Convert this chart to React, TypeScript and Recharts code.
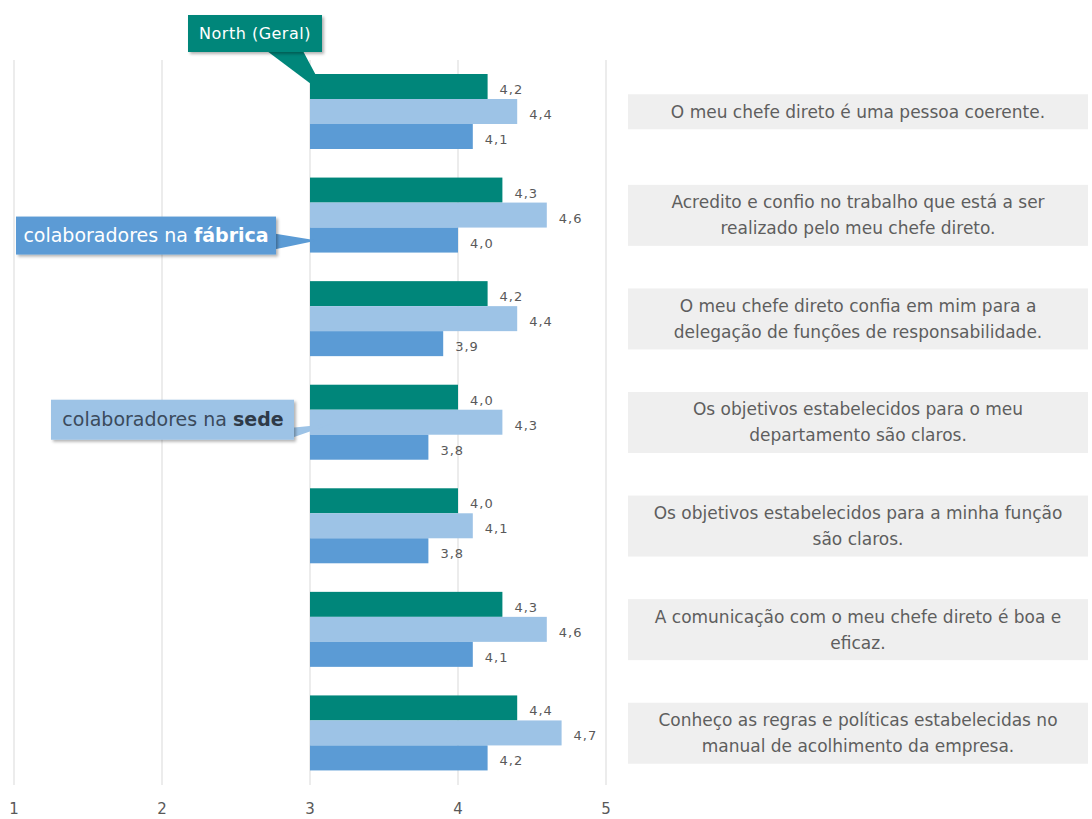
import React from 'react';
import { BarChart, Bar, XAxis, YAxis, CartesianGrid } from 'recharts';

// question text shown in the grey boxes on the right (line breaks as in the original)
const categories = [
  'O meu chefe direto é uma pessoa coerente.',
  'Acredito e confio no trabalho que está a ser\nrealizado pelo meu chefe direto.',
  'O meu chefe direto confia em mim para a\ndelegação de funções de responsabilidade.',
  'Os objetivos estabelecidos para o meu\ndepartamento são claros.',
  'Os objetivos estabelecidos para a minha função\nsão claros.',
  'A comunicação com o meu chefe direto é boa e\neficaz.',
  'Conheço as regras e políticas estabelecidas no\nmanual de acolhimento da empresa.',
];
const geral = [4.2, 4.3, 4.2, 4.0, 4.0, 4.3, 4.4];
const sede = [4.4, 4.6, 4.4, 4.3, 4.1, 4.6, 4.7];
const fabrica = [4.1, 4.0, 3.9, 3.8, 3.8, 4.1, 4.2];
const xTicks = [1, 2, 3, 4, 5];

const AXIS_CROSS = 3; // bars grow from the 3 line
const FONT = "'DejaVu Sans', sans-serif";
const TEAL = '#00867a';
const LIGHT = '#9dc3e6';
const BLUE = '#5b9bd5';

const rows = categories.map((label, i) => ({
  label,
  geral: geral[i],
  sede: sede[i],
  fabrica: fabrica[i],
}));

const fmt = (v: number) => v.toFixed(1).replace('.', ',');

type CalloutFn = (x: number, y: number, w: number, h: number) => React.ReactNode;

const northCallout: CalloutFn = (x, y) => (
  <g>
    <polygon points={`${x - 43},${y - 23} ${x - 7},${y - 23} ${x + 17},${y + 22}`} fill={TEAL} />
    <rect x={x - 122} y={y - 59} width={134} height={37} fill={TEAL} filter="url(#calloutShadow)" />
    <text x={x - 55} y={y - 40.5} dy="0.35em" textAnchor="middle" fill="#fff" fontSize={16} letterSpacing={0.5} fontFamily={FONT}>
      North (Geral)
    </text>
  </g>
);

const fabricaCallout: CalloutFn = (x, y) => (
  <g>
    <polygon points={`${x - 36},${y + 6} ${x - 36},${y + 22} ${x + 7},${y + 13}`} fill={BLUE} />
    <rect x={x - 294} y={y - 11} width={260} height={38} fill={BLUE} filter="url(#calloutShadow)" />
    <text x={x - 164} y={y + 8} dy="0.35em" textAnchor="middle" fill="#fff" fontSize={19} fontFamily={FONT}>
      colaboradores na <tspan fontWeight="bold">fábrica</tspan>
    </text>
  </g>
);

const sedeCallout: CalloutFn = (x, y) => (
  <g>
    <polygon points={`${x - 18},${y + 18} ${x - 18},${y + 28} ${x + 22},${y + 14}`} fill={LIGHT} />
    <rect x={x - 259} y={y - 10} width={243} height={40} fill={LIGHT} filter="url(#calloutShadow)" />
    <text x={x - 137} y={y + 10} dy="0.35em" textAnchor="middle" fill="#3b4a5c" fontSize={19} fontFamily={FONT}>
      colaboradores na <tspan fontWeight="bold" fill="#2e3a48">sede</tspan>
    </text>
  </g>
);

const makeShape = (key: 'geral' | 'sede' | 'fabrica', fill: string, calloutIndex: number, callout: CalloutFn) =>
  (props: any) => {
    const { x, y, width, height, payload, index } = props;
    return (
      <g>
        <rect x={x} y={y} width={width} height={height} fill={fill} />
        <text
          x={x + width + 12}
          y={y + height / 2 + 3}
          dy="0.35em"
          fontSize={13}
          letterSpacing={1}
          fill="#595959"
          fontFamily={FONT}
        >
          {fmt(payload[key])}
        </text>
        {index === calloutIndex ? callout(x, y, width, height) : null}
      </g>
    );
  };

const CategoryTick = (props: any) => {
  const { x, y, payload } = props;
  const lines = String(payload.value).split('\n');
  const lineH = 26;
  const boxH = 35 + lineH * (lines.length - 1);
  const left = x + 22;
  const w = 460;
  return (
    <g>
      <rect x={left} y={y - boxH / 2} width={w} height={boxH} fill="#efefef" />
      <text textAnchor="middle" fontSize={17} fill="#5e5e5e" fontFamily={FONT}>
        {lines.map((line, i) => (
          <tspan key={i} x={left + w / 2} y={y + (i - (lines.length - 1) / 2) * lineH} dy="0.35em">
            {line}
          </tspan>
        ))}
      </text>
    </g>
  );
};

export default function App() {
  return (
    <div style={{ position: 'absolute', left: 0, top: 0, width: 1092, height: 819, background: '#fff' }}>
      <BarChart
        width={1092}
        height={819}
        data={rows}
        layout="vertical"
        margin={{ top: 60, right: 0, bottom: 4, left: 14 }}
        barCategoryGap={14}
        barGap={0}
      >
        <defs>
          <filter id="calloutShadow" x="-10%" y="-30%" width="130%" height="180%">
            <feDropShadow dx="2" dy="2" stdDeviation="1.5" floodColor="#000" floodOpacity="0.3" />
          </filter>
        </defs>
        <CartesianGrid horizontal={false} stroke="#d9d9d9" />
        <XAxis
          type="number"
          domain={[1, 5]}
          ticks={xTicks}
          axisLine={false}
          tickLine={false}
          tickSize={0}
          tickMargin={18}
          height={30}
          tick={{ fill: '#595959', fontSize: 15, fontFamily: FONT }}
        />
        <YAxis
          type="category"
          dataKey="label"
          orientation="right"
          width={486}
          axisLine={false}
          tickLine={false}
          tickSize={0}
          tickMargin={0}
          interval={0}
          tick={<CategoryTick />}
        />
        <Bar
          dataKey={(d: any) => [AXIS_CROSS, d.geral]}
          fill={TEAL}
          isAnimationActive={false}
          shape={makeShape('geral', TEAL, 0, northCallout)}
        />
        <Bar
          dataKey={(d: any) => [AXIS_CROSS, d.sede]}
          fill={LIGHT}
          isAnimationActive={false}
          shape={makeShape('sede', LIGHT, 3, sedeCallout)}
        />
        <Bar
          dataKey={(d: any) => [AXIS_CROSS, d.fabrica]}
          fill={BLUE}
          isAnimationActive={false}
          shape={makeShape('fabrica', BLUE, 1, fabricaCallout)}
        />
      </BarChart>
    </div>
  );
}
